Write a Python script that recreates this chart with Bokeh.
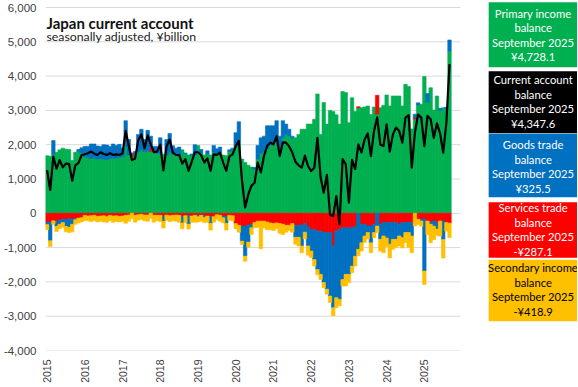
import math
from bokeh.plotting import figure
from bokeh.models import Range1d, FixedTicker, NumeralTickFormatter, Label
from bokeh.embed import file_html
from bokeh.resources import INLINE
from bokeh.core.properties import value

# ---------------- data (¥billion, seasonally adjusted, Jan 2015 - Sep 2025) ----------------
years = list(range(2015, 2026))
last_label = "September 2025"

primary_income = [
    1680, 1660, 1720, 1780, 1850, 1900, 1870, 1860, 1540, 1780, 1800, 1760,   # 2015
    1650, 1620, 1600, 1620, 1580, 1600, 1580, 1570, 1600, 1620, 1600, 1640,   # 2016
    1650, 1950, 1700, 1660, 1700, 1800, 1850, 1800, 1820, 1800, 1800, 1750,   # 2017
    1750, 1720, 1700, 1780, 1720, 1700, 1680, 1850, 1750, 1700, 1680, 1700,   # 2018
    1980, 1760, 1700, 1720, 1700, 1780, 1730, 1780, 1700, 1680, 1800, 1850,   # 2019
    1950, 2070, 1580, 1480, 1400, 1350, 1290, 1580, 1750, 1800, 1900, 2000,   # 2020
    2050, 2100, 1900, 2200, 2300, 2250, 2200, 2200, 2300, 2450, 2450, 2600,   # 2021
    2600, 2740, 3480, 2300, 3230, 2600, 3000, 2970, 2870, 2600, 3550, 3520,   # 2022
    2640, 3370, 2970, 3080, 3080, 3100, 3130, 2880, 3100, 2890, 3080, 3150,   # 2023
    3450, 3130, 3420, 3420, 3420, 3130, 3760, 3700, 2460, 2750, 3160, 3180,   # 2024
    3990, 3240, 3660, 3010, 3420, 3000, 3080, 3030, 4728.1,                   # 2025
]
services_trade = [
    -270, -250, -220, -230, -200, -170, -180, -160, -170, -150, -140, -130,
    -60, -80, -70, -60, -90, -80, -70, -100, -60, -80, -70, -90,
    -80, -60, -50, 90, -60, -40, -30, -50, -50, 120, -60, -60,
    -60, -80, -50, -70, -60, -50, -60, -80, -70, -60, -80, -60,
    -50, -60, -70, -80, -90, -100, -40, -60, -80, -90, -60, -70,
    -300, -350, -370, -370, -350, -320, -270, -230, -230, -230, -250, -280,
    -300, -280, -300, -320, -350, -350, -300, -350, -350, -350, -300, -400,
    -470, -470, -520, -520, -560, -560, -560, -950, -520, -470, -420, -420,
    -420, -420, -390, 30, -320, -320, -370, -370, -320, 550, -320, -270,
    -270, -270, -270, -270, -320, -270, -270, -270, -270, 40, -175, -175,
    -175, -225, -270, -225, -270, -225, -225, -270, -287.1,
]
goods_trade = [
    -60, -550, 400, -150, -120, -100, -200, -250, -150, -40, 60, 150,
    300, 330, 420, 400, 380, 350, 420, 420, 350, 400, 380, 370,
    250, 750, 450, 0, 100, 500, 600, 350, 600, 330, 150, 200,
    450, -150, 450, 550, 250, 200, 250, -200, 0, -250, 50, 300,
    -50, 100, -50, 100, -200, 200, 150, 150, -50, -200, 50, 50,
    400, 600, -440, -880, -490, -100, 50, 400, 450, 450, 650, 550,
    500, 600, 350, 500, 300, 200, 50, -350, -350, -600, -250, -550,
    -630, -880, -1120, -1260, -1460, -1650, -1850, -1800, -1940, -2040, -1510, -1360,
    -1360, -1120, -860, -1050, -540, -340, -190, -490, -240, -370, -440, -390,
    -450, -630, -490, -490, -340, -440, -290, -290, -390, 100, 60, -50,
    -1510, 250, -50, -150, -190, 60, -540, 60, 325.5,
]
secondary_income = [
    -150, -170, -100, -150, -130, -140, -160, -150, -220, -130, -140, -120,
    -150, -140, -170, -150, -160, -150, -180, -160, -150, -180, -170, -160,
    -150, -230, -180, -150, -200, -160, -150, -170, -180, -150, -200, -150,
    -180, -200, -150, -170, -160, -180, -200, -170, -200, -150, -180, -200,
    -150, -170, -150, -180, -200, -160, -150, -170, -150, -200, -150, -150,
    -150, -200, -100, -150, -150, -200, -150, -180, -800, -200, -230, -200,
    -200, -170, -280, -300, -200, -150, -250, -200, -250, -200, -200, -270,
    -190, -190, -150, -150, -150, -150, -190, -240, -290, -190, -190, -340,
    -240, -190, -290, -190, -240, -190, -190, -290, -150, -190, -340, -490,
    -250, -400, -290, -240, -290, -300, -290, -440, -490, -370, -150, -150,
    -390, -390, -540, -390, -190, -440, -540, -250, -418.9,
]
current_account = [
    1260, 680, 1650, 1300, 1550, 1340, 1450, 1440, 950, 1400, 1470, 1700,
    1720, 1750, 1800, 1740, 1700, 1780, 1730, 1700, 1750, 1700, 1720, 1700,
    1750, 2400, 1960, 1550, 1600, 2130, 2300, 1900, 2270, 2000, 1780, 1800,
    2000, 1250, 1950, 2150, 1770, 1700, 1700, 1450, 1580, 1240, 1500, 1780,
    1780, 1700, 1480, 1600, 1240, 1720, 1700, 1770, 1480, 1240, 1660, 1720,
    1960, 2110, 950, 166, 550, 800, 890, 1480, 1190, 1670, 1960, 2060,
    2010, 2250, 1670, 2070, 2060, 1950, 1770, 1500, 1400, 1330, 1680, 1380,
    1230, 1330, 2200, 1050, 600, 1120, -50, -80, 500, -320, 1580, 1430,
    310, 1560, 1290, 2010, 1770, 2150, 2330, 1670, 2400, 2800, 2000, 1960,
    2590, 1800, 2300, 2500, 2400, 2060, 2790, 2860, 1330, 2350, 2880, 2790,
    1960, 2840, 2740, 2200, 2620, 2330, 1770, 2640, 4347.6,
]
y_ticks = list(range(-4000, 6001, 1000))

n = len(current_account)
months = list(range(n))
n_slots = 12 * len(years)          # category slots Jan 2015 .. Dec 2025

GREEN, BLUE, RED, YELLOW = "#00B050", "#0070C0", "#FF0000", "#FFC000"

# ---------------- layout constants (pixels) ----------------
W, H = 577, 386
LEFT, BOTTOM, TOP = 44, 36, 0
PX_PER_MONTH = 3.15
PX_PER_UNIT = 0.0343                # pixels per ¥billion
frame_w = W - LEFT
frame_h = H - BOTTOM - TOP
x_start = -0.5
x_end = x_start + frame_w / PX_PER_MONTH
y_start = y_ticks[0]
y_end = y_start + frame_h / PX_PER_UNIT

def mx(px):          # window x pixel -> x data
    return x_start + (px - LEFT) / PX_PER_MONTH

def vy(py):          # window y pixel -> y data
    return y_end - (py - TOP) / PX_PER_UNIT

p = figure(width=W, height=H, x_range=Range1d(x_start, x_end), y_range=Range1d(y_start, y_end),
           output_backend="svg", toolbar_location=None,
           min_border_left=LEFT, min_border_right=0, min_border_top=TOP, min_border_bottom=BOTTOM)
p.outline_line_color = None
p.background_fill_color = "white"
p.border_fill_color = "white"
p.xgrid.visible = False
p.ygrid.visible = False

# horizontal gridlines only across the chart area
p.segment(x0=[x_start] * len(y_ticks), x1=[n_slots - 0.5] * len(y_ticks), y0=y_ticks, y1=y_ticks,
          line_color="#d9d9d9", line_width=1)

# stacked bars (positives up, negatives down, Excel-like series order)
series = [(primary_income, GREEN), (services_trade, RED), (goods_trade, BLUE), (secondary_income, YELLOW)]
pos = [0.0] * n
neg = [0.0] * n
for vals, col in series:
    bottoms, tops = [], []
    for i, v in enumerate(vals):
        if v >= 0:
            bottoms.append(pos[i]); pos[i] += v; tops.append(pos[i])
        else:
            bottoms.append(neg[i]); neg[i] += v; tops.append(neg[i])
    p.vbar(x=months, width=1.1, bottom=bottoms, top=tops, fill_color=col,
           line_color=col, line_width=0.6)

p.line(x=months, y=current_account, line_color="black", line_width=2.2, line_join="round")

p.yaxis.ticker = FixedTicker(ticks=y_ticks)
p.yaxis.formatter = NumeralTickFormatter(format="0,0")
p.xaxis.ticker = FixedTicker(ticks=[12 * k for k in range(len(years))])
p.xaxis.major_label_overrides = {12 * k: str(y) for k, y in enumerate(years)}
p.xaxis.major_label_orientation = math.pi / 2
for ax in (p.xaxis[0], p.yaxis[0]):
    ax.axis_line_color = None
    ax.major_tick_line_color = None
    ax.minor_tick_line_color = None
    ax.major_tick_out = 0
    ax.major_tick_in = 0
    ax.minor_tick_out = 0
    ax.minor_tick_in = 0
    ax.major_label_text_font = "Liberation Sans"
    ax.major_label_text_color = "#404040"
p.yaxis.major_label_text_font_size = "11.5px"
p.xaxis.major_label_text_font_size = "10.5px"
p.yaxis.major_label_standoff = 9
p.xaxis.major_label_standoff = 9

p.add_layout(Label(x=x_start, y=vy(22), x_offset=1, text="Japan current account",
                   text_font="Lato", text_font_style="bold", text_font_size="15px",
                   text_baseline="alphabetic", text_color="#111111"))
p.add_layout(Label(x=x_start, y=vy(36), x_offset=1, text="seasonally adjusted, ¥billion",
                   text_font="Lato", text_font_size="12.3px",
                   text_baseline="alphabetic", text_color="#222222"))

# ---------------- value boxes on the right ----------------
def money(v):
    return ("-" if v < 0 else "") + "¥{:,.1f}".format(abs(v))

box_names = ["Primary income", "Current account", "Goods trade", "Services trade", "Secondary income"]
box_values = [primary_income[-1], current_account[-1], goods_trade[-1], services_trade[-1], secondary_income[-1]]
box_fill = [GREEN, "#000000", BLUE, RED, YELLOW]
box_text = ["white", "white", "white", "white", "black"]
box_top_px = [1.7, 70.7, 133.3, 201.7, 259.3]
box_bottom_px = [66.7, 132.7, 196.7, 257.3, 320.7]
row_first_px = [12.7, 79.0, 144.0, 207.0, 267.0]
ROW_STEP = 14.5
BOX_L, BOX_R = 488, W

p.quad(left=[mx(BOX_L)] * 5, right=[mx(BOX_R)] * 5,
       top=[vy(t) for t in box_top_px], bottom=[vy(b) for b in box_bottom_px],
       fill_color=box_fill, line_color=None)
xs, ys, ts, cs = [], [], [], []
for k in range(5):
    lines = [box_names[k], "balance", last_label, money(box_values[k])]
    for j, t in enumerate(lines):
        xs.append(mx((BOX_L + BOX_R) / 2)); ys.append(vy(row_first_px[k] + j * ROW_STEP))
        ts.append(t); cs.append(box_text[k])
p.text(x=xs, y=ys, text=ts, text_color=cs, text_align="center", text_baseline="middle",
       text_font=value("Lato"), text_font_size="11.2px")

open("out.html", "w").write(file_html(p, INLINE))
